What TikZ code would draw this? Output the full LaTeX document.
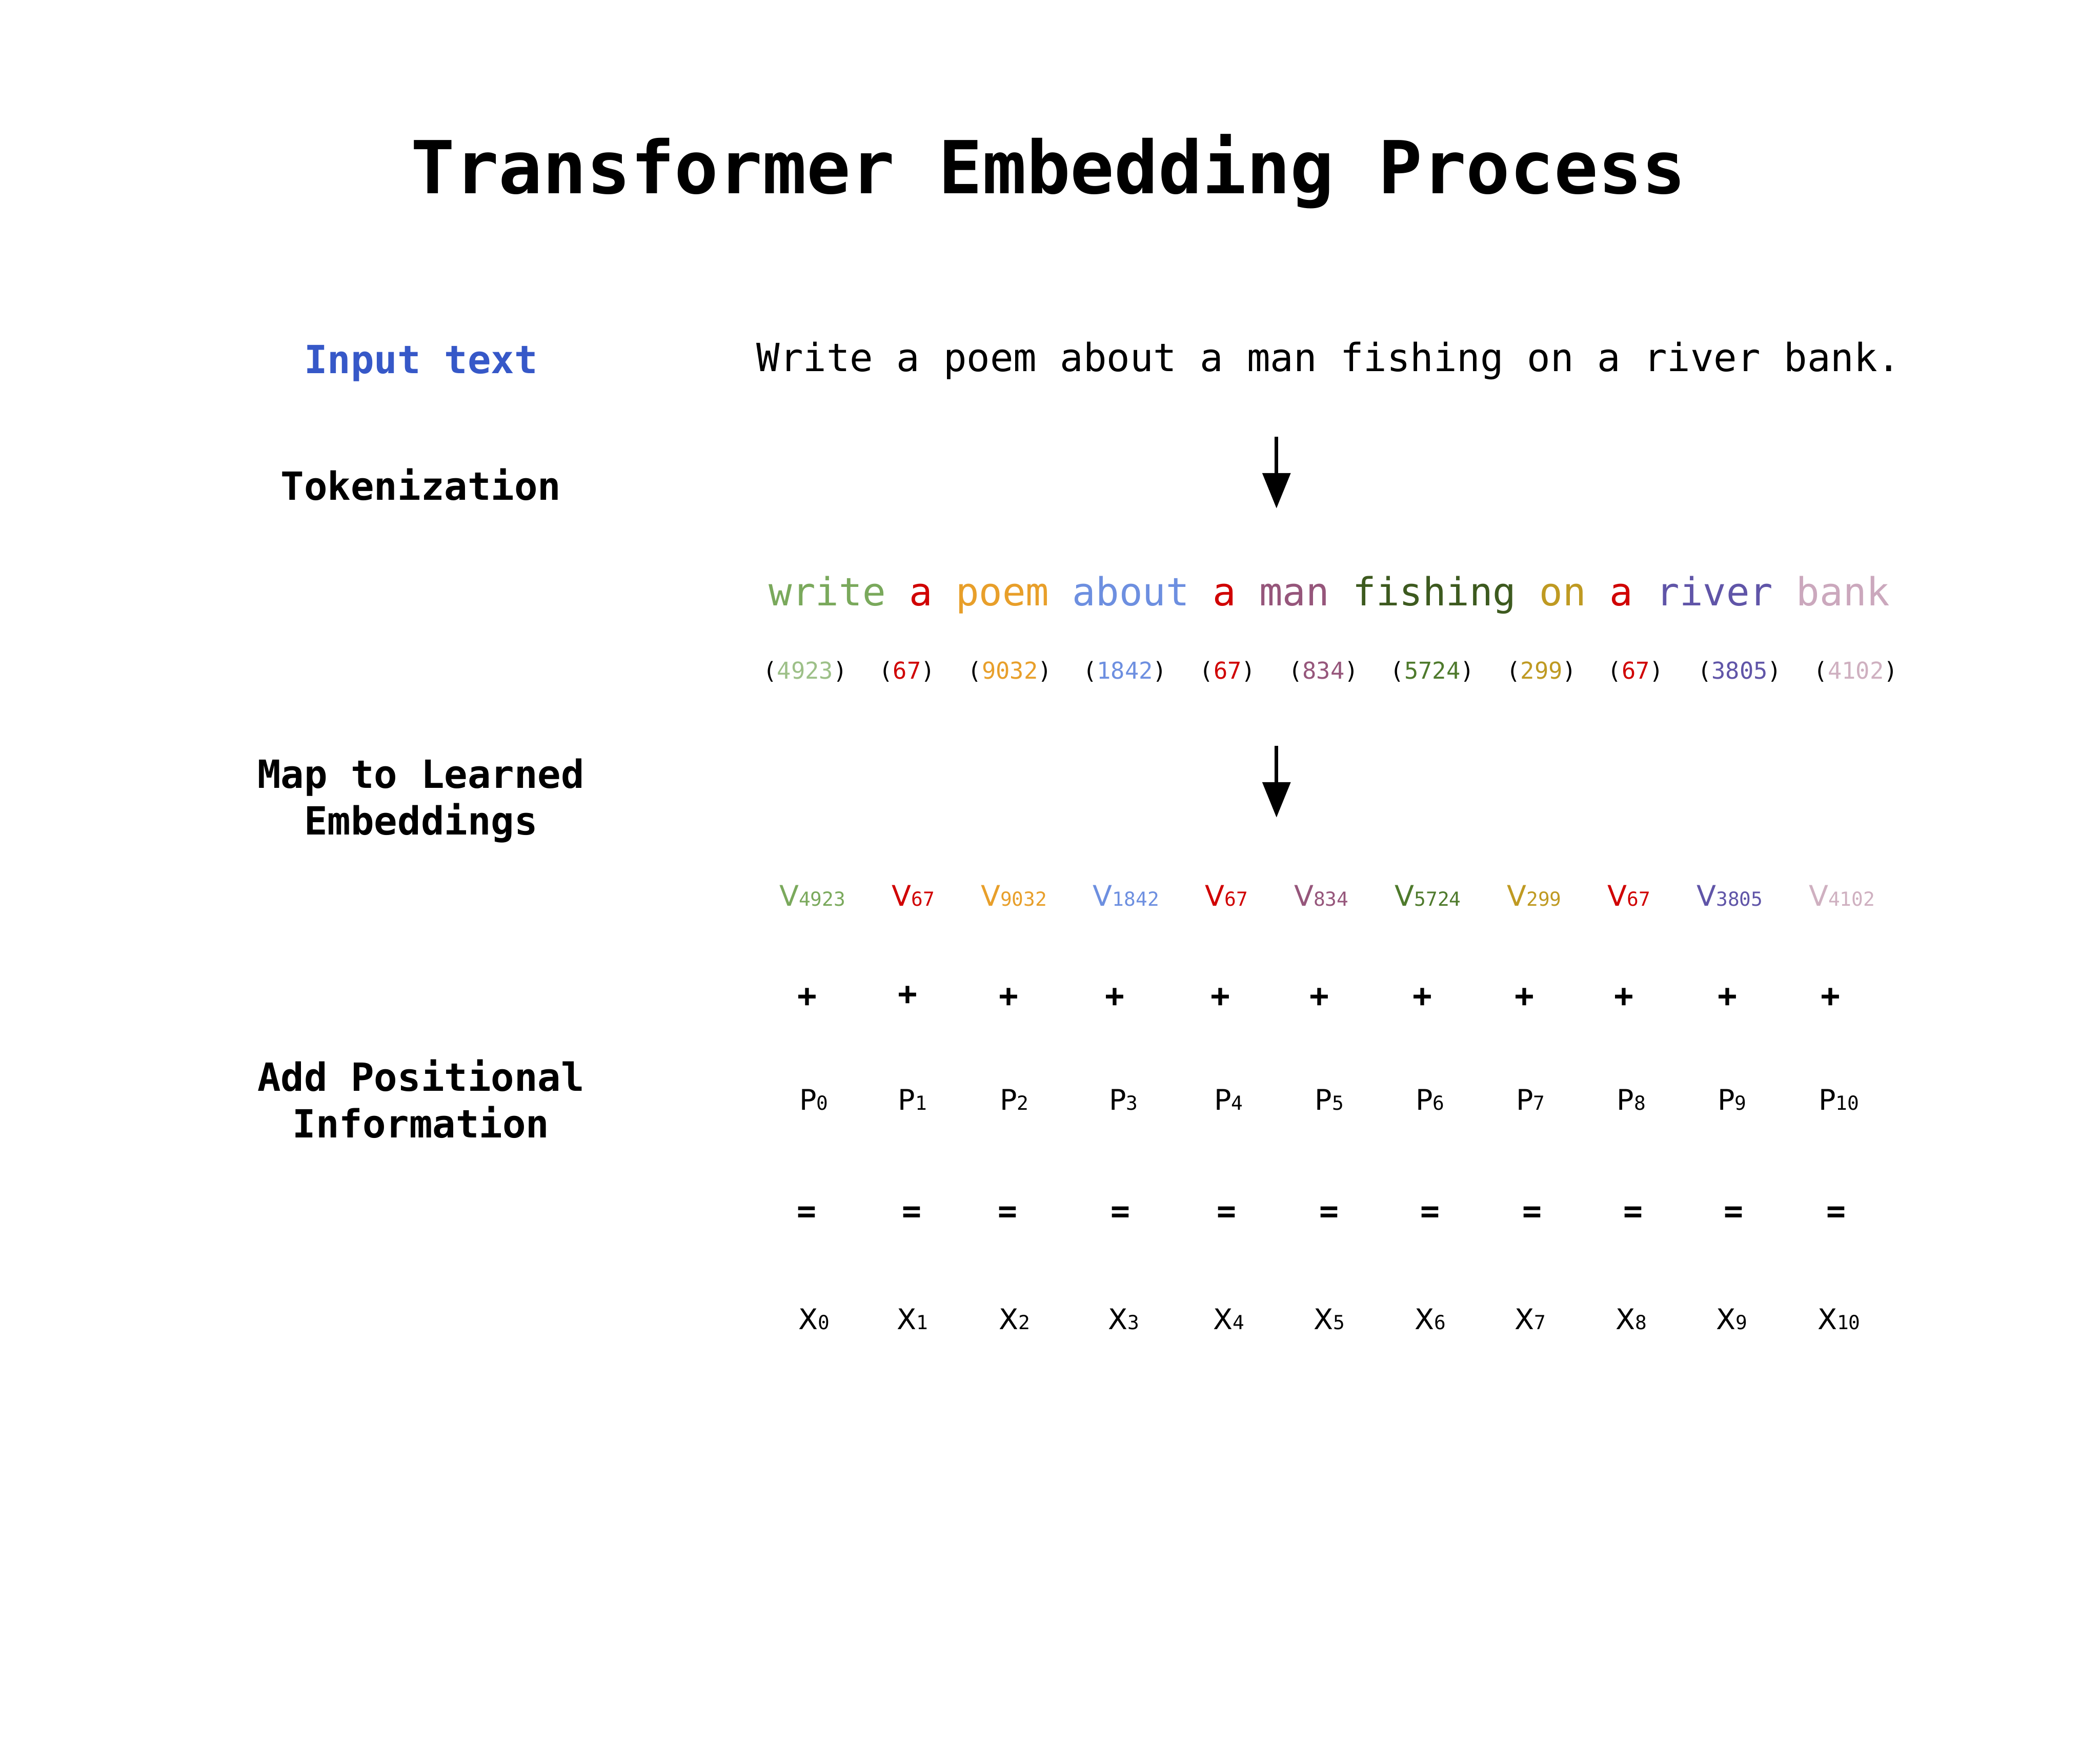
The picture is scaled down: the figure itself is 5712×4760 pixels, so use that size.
\documentclass[tikz,border=0pt]{standalone}
\usepackage{fontspec}
\setmainfont{DejaVu Sans Mono}
\newfontfamily\vsansfont{DejaVu Sans}
\usetikzlibrary{arrows.meta}
\definecolor{inputblue}{HTML}{3658C8}
\definecolor{cwrite}{HTML}{7AA95C}
\definecolor{cA}{HTML}{D00000}
\definecolor{cpoem}{HTML}{E89F2A}
\definecolor{cabout}{HTML}{6D8FE0}
\definecolor{cman}{HTML}{96567B}
\definecolor{cfish}{HTML}{3D5A1F}
\definecolor{con}{HTML}{BF9A22}
\definecolor{criver}{HTML}{6055A8}
\definecolor{cbank}{HTML}{CBA8BD}
\definecolor{iwrite}{HTML}{9DC088}
\definecolor{ifish}{HTML}{4E7A2C}
\definecolor{ibank}{HTML}{CFB0C0}
\newcommand\vecv[3]{{\color{#1}{\vsansfont\fontsize{22}{26}\selectfont #2}{\fontsize{15}{18}\selectfont #3}}}
\newcommand\idnum[2]{({\color{#1}#2})}
\tikzset{
  titlestyle/.style={font=\bfseries\fontsize{56.5}{68}\selectfont, anchor=base, inner sep=0pt},
  lblstyle/.style={font=\bfseries\fontsize{30}{36.1}\selectfont, inner sep=0pt, align=center},
  txtstyle/.style={font=\fontsize{30}{36}\selectfont, anchor=base, inner sep=0pt},
  idstyle/.style={font=\fontsize{18}{22}\selectfont, anchor=base, inner sep=0pt},
  vecstyle/.style={anchor=base, inner sep=0pt},
  opstyle/.style={font=\bfseries\fontsize{25}{30}\selectfont, inner sep=0pt},
  arr/.style={line width=0.1cm, -{Triangle[length=0.96cm,width=0.75cm]}},
}
\begin{document}
\begin{tikzpicture}[x=0.01cm,y=-0.01cm]
\fill[white] (0,0) rectangle (5712,4760);
\useasboundingbox (0,0) rectangle (5712,4760);

\node[titlestyle] (title) at (2852,526) {Transformer Embedding Process};

% left labels
\node[lblstyle, anchor=base, text=inputblue] (lin) at (1145,1016) {Input text};
\node[lblstyle, anchor=base] (ltok) at (1145,1361) {Tokenization};
\node[lblstyle] (lmap) at (1145,2178) {Map to Learned\\Embeddings};
\node[lblstyle] (lpos) at (1145,2990) {Add Positional\\Information};

% input sentence
\node[txtstyle] (sent) at (3614,1010) {Write a poem about a man fishing on a river bank.};

% arrows
\coordinate (a1s) at (3472,1188);
\coordinate (a1e) at (3472,1383);
\draw[arr] (a1s) -- (a1e);
\coordinate (a2s) at (3472,2029);
\coordinate (a2e) at (3472,2224);
\draw[arr] (a2s) -- (a2e);

% tokens
\node[txtstyle] (tokens) at (3616,1648) {{\color{cwrite}write} {\color{cA}a} {\color{cpoem}poem} {\color{cabout}about} {\color{cA}a} {\color{cman}man} {\color{cfish}fishing} {\color{con}on} {\color{cA}a} {\color{criver}river} {\color{cbank}bank}};

% token ids
\foreach \x/\c/\n [count=\i] in {2190/iwrite/4923, 2467/cA/67, 2747/cpoem/9032, 3060/cabout/1842, 3339/cA/67, 3600/cman/834, 3896/ifish/5724, 4193/con/299, 4449/cA/67, 4732/criver/3805, 5048/ibank/4102}
  \node[idstyle] (id\i) at (\x,1847) {\idnum{\c}{\n}};

% embedding vectors
\foreach \x/\c/\n [count=\i] in {2210/cwrite/4923, 2484/cA/67, 2758/cpoem/9032, 3063/cabout/1842, 3336/cA/67, 3594/cman/834, 3884/ifish/5724, 4173/con/299, 4431/cA/67, 4705/criver/3805, 5010/ibank/4102}
  \node[vecstyle] (v\i) at (\x,2465) {\vecv{\c}{V}{\n}};

% plus signs
\foreach \x/\y [count=\i] in {2196/2714, 2469/2709, 2743/2714, 3032/2714, 3320/2714, 3589/2714, 3869/2714, 4147/2714, 4417/2714, 4699/2714, 4979/2714}
  \node[opstyle] (plus\i) at (\x,\y) {+};

% positional vectors
\foreach \x [count=\i from 0] in {2214, 2482, 2759, 3056, 3342, 3616, 3890, 4163, 4437, 4711, 5002}
  \node[vecstyle] (p\i) at (\x,3020) {\vecv{black}{P}{\i}};

% equals signs
\foreach \x [count=\i] in {2194, 2480, 2741, 3048, 3337, 3615, 3890, 4168, 4442, 4716, 4994}
  \node[opstyle] (eq\i) at (\x,3304) {=};

% results
\foreach \x [count=\i from 0] in {2214, 2482, 2759, 3056, 3342, 3616, 3890, 4163, 4437, 4711, 5002}
  \node[vecstyle] (xr\i) at (\x,3617) {\vecv{black}{X}{\i}};
\end{tikzpicture}
\end{document}
